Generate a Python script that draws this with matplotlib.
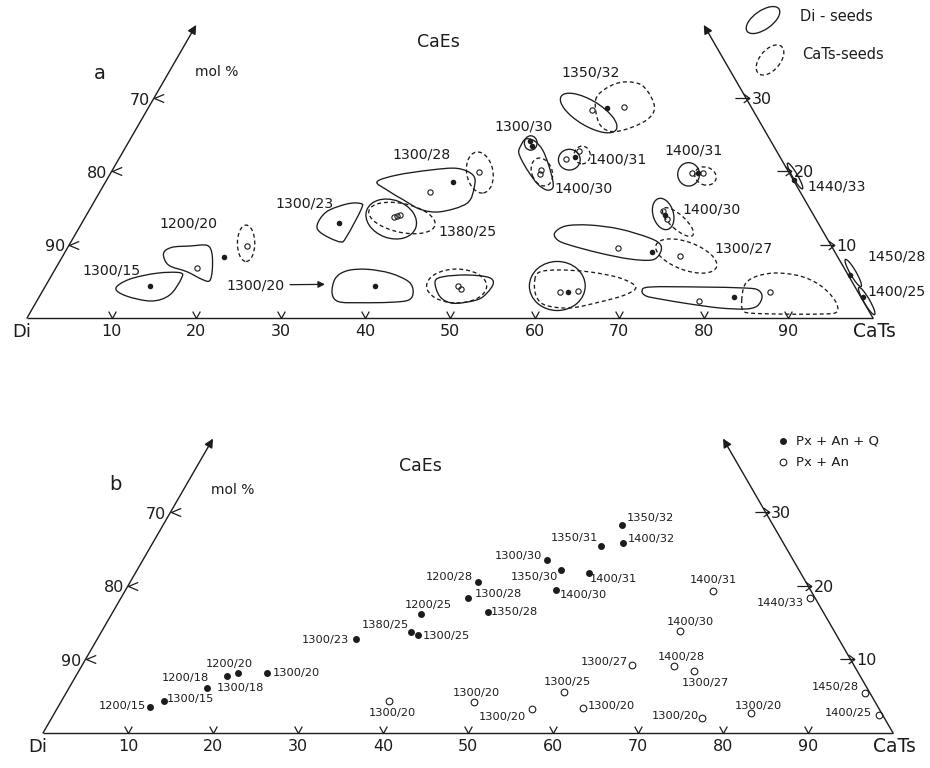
import numpy as np
import matplotlib.pyplot as plt
from matplotlib.path import Path
from matplotlib.patches import PathPatch, Ellipse

plt.rcParams['font.family'] = ['DejaVu Sans']

INK = "#1c1c1c"
DASH = (0, (3.0, 2.2))
SQ3 = np.sqrt(3) / 2

# ---------------- panel a : Di- and CaTs-seeded runs (CaTs, CaEs mol %) ----------------
a_full_cats = [12.3, 19.1, 30.4, 41.1, 38.9, 54.2, 47.4, 47.9, 53.8, 69.4, 68.4, 69.4,
               62.2, 82.2, 81.2, 94.3, 97.4]
a_full_caes = [4.41, 8.29, 13.0, 18.52, 4.41, 28.62, 24.2, 23.52, 21.94, 19.75, 14.06, 8.97,
               3.59, 2.83, 18.84, 5.87, 2.91]

a_open_cats = [16.7, 21.1, 36.5, 36.8, 37.1, 39.0, 43.4, 48.8, 49.4, 52.6, 56.1, 50.7, 50.8,
               52.9, 53.8, 68.7, 70.0, 67.9, 68.9, 65.1, 73.0, 61.2, 63.3, 78.3, 86.0]
a_open_caes = [6.78, 9.83, 13.75, 13.92, 14.06, 17.16, 19.97, 4.37, 3.92, 28.39, 28.84, 20.2, 19.66,
               21.66, 22.86, 19.75, 19.83, 14.65, 13.51, 9.51, 8.46, 3.51, 3.69, 2.36, 3.59]

a_labels = ["1300/15", "1200/20", "1300/23", "1300/28", "1380/25", "1350/32", "1300/30",
            "1400/31", "1400/30", "1400/31", "1400/30", "1300/27", "1440/33", "1450/28", "1400/25"]

# composition envelopes: ellipses (CaTs, CaEs, width, height, angle)
a_di_ellipses = [
    (36.3, 13.51, 6.15, 4.5, -20),
    (52.4, 27.98, 7.6, 3.0, -31),
    (47.6, 23.89, 1.5, 1.7, 0),
    (53.3, 21.61, 2.57, 2.45, 0),
    (68.4, 19.61, 2.57, 2.76, 0),
    (68.1, 14.2, 3.8, 2.4, 107),
    (60.5, 4.37, 6.6, 5.8, 0),
    (81.1, 19.38, 3.5, 0.6, -60),
    (94.6, 6.14, 3.7, 0.7, -60),
    (98.1, 2.32, 3.7, 0.7, -60),
]
a_cats_ellipses = [
    (20.8, 10.2, 2.05, 4.3, 0),
    (37.5, 13.65, 8.0, 3.4, -12),
    (43.6, 19.86, 3.1, 4.9, 10),
    (48.6, 4.37, 7.1, 4.0, 0),
    (50.9, 19.93, 3.4, 2.4, -70),
    (54.5, 22.25, 1.9, 2.1, 0),
    (70.5, 19.38, 2.6, 2.1, -20),
    (70.4, 13.1, 4.7, 1.7, -42),
    (73.7, 8.46, 7.6, 3.3, -20),
]

# irregular envelopes: centre (CaTs, CaEs) and outline offsets in mol %
a_di_blobs = [
    ((12.3, 4.41), [(-4.0, -0.31), (-2.4, 0.76), (0.8, 1.47), (3.55, 1.54), (3.75, 0.87),
                    (2.36, -1.1), (0.2, -1.81), (-2.75, -1.22)]),
    ((16.7, 6.78), [(-3.95, 1.77), (-2.96, 2.48), (-0.79, 2.64), (1.18, 2.72), (1.77, 1.77),
                    (1.81, -0.2), (1.49, -1.47), (0.59, -1.3), (-1.18, -0.4), (-3.36, 0.39)]),
    ((30.4, 13.0), [(2.45, 2.29), (2.65, 1.70), (0.87, -1.65), (0.08, -2.25), (-2.08, -1.25),
                    (-2.6, -0.27), (-1.49, 1.30), (0.87, 2.21)]),
    ((41.1, 18.52), [(-8.98, 0.07), (-6.62, 0.86), (-2.68, 1.45), (0.47, 1.65), (2.36, 0.86),
                     (2.52, -0.52), (1.65, -2.48), (-1.5, -3.48), (-3.87, -3.19), (-5.84, -2.09),
                     (-7.8, -0.91)]),
    ((38.9, 4.41), [(-5.04, -0.9), (-4.65, 0.87), (-3.26, 1.77), (-0.9, 1.94), (1.86, 1.47),
                    (4.02, 0.47), (4.54, -0.71), (4.02, -1.69), (1.86, -1.96), (-1.69, -2.01),
                    (-4.26, -1.89)]),
    ((48.8, 4.37), [(-2.75, 0.51), (-1.77, 1.1), (0.99, 1.3), (3.55, 1.03), (4.14, 0.32),
                    (3.36, -0.86), (2.17, -1.65), (-0.59, -2.04), (-2.16, -1.26)]),
    ((47.4, 24.2), [(-1.15, -0.63), (-0.56, 0.2), (0.51, -0.04), (1.45, -1.1), (2.16, -2.87),
                    (2.64, -4.65), (2.64, -5.59), (1.93, -5.83), (0.86, -5.12), (-0.2, -3.7),
                    (-1.03, -2.28), (-1.38, -1.34)]),
    ((65.1, 9.51), [(-7.48, 1.81), (-6.18, 2.64), (-3.35, 2.75), (0.2, 2.28), (3.75, 1.22),
                    (5.05, 0.39), (4.93, -0.67), (3.98, -1.38), (1.38, -1.26), (-2.16, -0.56),
                    (-5.71, 0.39), (-7.13, 0.98)]),
    ((78.3, 2.36), [(-6.77, 1.15), (-5.83, 1.62), (0.08, 1.62), (5.4, 1.5), (6.94, 1.26),
                    (7.41, 0.44), (6.82, -0.63), (5.4, -0.98), (2.45, -0.86), (-1.1, -0.39),
                    (-4.65, 0.2), (-6.3, 0.56)]),
]
a_cats_blobs = [
    ((56.1, 28.84), [(-3.31, 0.79), (-2.01, 2.21), (0, 2.92), (2.13, 2.56), (3.43, 0.79),
                     (3.55, -0.63), (2.36, -1.81), (0, -2.75), (-1.77, -2.87), (-2.96, -1.81)]),
    ((63.3, 3.69), [(-5.12, 1.3), (-4.53, 2.25), (-2.16, 2.48), (1.38, 2.25), (4.93, 1.54),
                    (6.82, 0.47), (5.52, -0.47), (2.56, -1.3), (-0.98, -2.01), (-3.94, -1.65),
                    (-5, -0.47)]),
    ((86.0, 3.59), [(-3.31, -0.98), (-2.96, 0.79), (-1.77, 1.74), (0.59, 2.21), (3.55, 1.86),
                    (5.91, 0.79), (7.68, -0.98), (7.92, -2.4), (5.91, -2.64), (1.18, -2.64),
                    (-2.36, -2.52), (-3.19, -2.16)]),
]

# ---------------- panel b : run products ----------------
b_full_labels = ["1200/15", "1300/15", "1200/18", "1300/18", "1200/20", "1300/20", "1300/23",
                 "1380/25", "1300/25", "1200/25", "1300/28", "1200/28", "1350/28", "1300/30",
                 "1350/30", "1400/30", "1350/31", "1400/31", "1350/32", "1400/32"]
b_full_cats = [10.8, 12.1, 17.8, 16.2, 18.9, 22.3, 30.4, 36.4, 37.5, 36.4, 40.9, 40.9, 44.1,
               47.5, 49.9, 50.6, 52.9, 53.4, 54.0, 55.3]
b_full_caes = [3.5, 4.35, 7.7, 6.1, 8.15, 8.15, 12.8, 13.7, 13.3, 16.2, 18.3, 20.5, 16.4,
               23.5, 22.1, 19.4, 25.4, 21.7, 28.3, 25.8]

b_open_labels = ["1300/20", "1300/20", "1300/20", "1300/25", "1300/20", "1300/27", "1400/31",
                 "1400/30", "1400/28", "1300/27", "1300/20", "1300/20", "1440/33", "1450/28",
                 "1400/25"]
b_open_cats = [38.5, 48.6, 55.9, 58.5, 61.8, 64.7, 69.2, 68.0, 69.7, 72.4, 76.5, 81.9, 81.1,
               94.0, 97.1]
b_open_caes = [4.35, 4.2, 3.25, 5.6, 3.4, 9.2, 19.3, 13.9, 9.1, 8.4, 2.0, 2.7, 18.3, 5.4, 2.45]

base_ticks = [10, 20, 30, 40, 50, 60, 70, 80, 90]
side_ticks = [10, 20, 30]

# label placement (plot units)
a_label_xy = [(10.0, 5.67), (19.05, 11.15), (32.86, 13.59), (46.65, 19.27), (52.1, 10.2),
              (66.6, 29.05), (58.75, 22.61), (69.8, 18.76), (65.8, 15.33), (78.76, 19.78),
              (80.95, 12.77), (84.75, 8.24), (95.71, 15.52), (102.8, 7.25), (102.8, 3.11)]
b_full_label_xy = [(9.29, 3.18), (17.4, 3.96), (16.8, 6.43), (23.18, 5.33), (21.9, 8.08),
                   (29.8, 7.02), (33.18, 10.94), (40.3, 12.71), (47.5, 11.41), (45.3, 15.06),
                   (53.6, 16.35), (47.8, 18.31), (55.5, 14.27), (55.9, 20.82), (57.8, 18.39),
                   (63.6, 16.24), (62.5, 22.9), (67.1, 18.12), (71.41, 25.33), (71.61, 22.79)]
b_open_label_xy = [(41.14, 2.39), (50.94, 4.67), (54.1, 1.85), (61.68, 6.04), (66.9, 3.18),
                   (66.1, 8.39), (78.86, 18.0), (76.12, 13.02), (75.14, 8.9), (77.88, 5.84),
                   (74.35, 2.04), (84.15, 3.18), (86.71, 15.33), (93.18, 5.45), (94.75, 2.39)]


def tern(cats, caes):
    cats = np.asarray(cats, float)
    caes = np.asarray(caes, float)
    return cats + caes / 2, caes * SQ3


def closed_curve(points):
    pts = np.asarray(points, float)
    n = len(pts)
    verts, codes = [pts[0]], [Path.MOVETO]
    for i in range(n):
        p0, p1, p2, p3 = pts[i - 1], pts[i], pts[(i + 1) % n], pts[(i + 2) % n]
        verts += [p1 + (p2 - p0) / 6, p2 - (p3 - p1) / 6, p2]
        codes += [Path.CURVE4] * 3
    return Path(verts, codes)


def draw_blob(ax, centre, offsets, dashed):
    cx, cy = tern(*centre)
    pts = np.asarray(offsets, float) + np.array([cx, cy])
    ax.add_patch(PathPatch(closed_curve(pts), fill=False, ec=INK, lw=0.95,
                           ls=DASH if dashed else '-'))


def draw_ellipse(ax, spec, dashed):
    cats, caes, w, h, ang = spec
    ax.add_patch(Ellipse(tern(cats, caes), w, h, angle=ang, fill=False, ec=INK, lw=0.95,
                         ls=DASH if dashed else '-'))


LEFT_TICK = Path([(1, 0.42), (0, 0), (1, -0.42)], [Path.MOVETO, Path.LINETO, Path.LINETO])
BASE_TICK = Path([(-0.55, 1), (0, 0), (0.55, 1)], [Path.MOVETO, Path.LINETO, Path.LINETO])
RIGHT_TICK = Path([(-1, 0), (0.3, 0), (-0.25, 0.4), (0.3, 0), (-0.25, -0.4)],
                  [Path.MOVETO, Path.LINETO, Path.MOVETO, Path.LINETO, Path.LINETO])


def draw_frame(ax, letter, letter_xy, mol_xy, caes_xy, num_size):
    ax.plot([0, 100], [0, 0], color=INK, lw=1.0, solid_capstyle='butt')
    for start, end in [((0, 0), (0, 40)), ((100, 0), (60, 40))]:
        ax.annotate("", xy=tern(*end), xytext=tern(*start),
                    arrowprops=dict(arrowstyle="-|>", color=INK, lw=1.0, mutation_scale=13,
                                    shrinkA=0, shrinkB=0))
    tick_kw = dict(ls='none', mfc='none', mec=INK, mew=0.9)

    bx, by = tern(base_ticks, np.zeros(len(base_ticks)))
    ax.plot(bx, by, marker=BASE_TICK, ms=10, **tick_kw)
    for v, x, y in zip(base_ticks, bx, by):
        ax.annotate(str(v), (x, y), xytext=(0, -10), textcoords='offset points',
                    ha='center', va='center', fontsize=num_size, color=INK)

    lx, ly = tern(np.zeros(len(side_ticks)), side_ticks)
    ax.plot(lx, ly, marker=LEFT_TICK, ms=14, **tick_kw)
    for v, x, y in zip(side_ticks, lx, ly):
        ax.annotate(str(100 - v), (x, y), xytext=(-3, -1.5), textcoords='offset points',
                    ha='right', va='center', fontsize=num_size, color=INK)

    rx, ry = tern(100 - np.array(side_ticks), side_ticks)
    ax.plot(rx, ry, marker=RIGHT_TICK, ms=16, **tick_kw)
    for v, x, y in zip(side_ticks, rx, ry):
        ax.annotate(str(v), (x, y), xytext=(4, -1), textcoords='offset points',
                    ha='left', va='center', fontsize=num_size, color=INK)

    ax.annotate("Di", (0, 0), xytext=(-4, -10), textcoords='offset points',
                ha='center', va='center', fontsize=13, color=INK)
    ax.annotate("CaTs", tern(100, 0), xytext=(1, -10), textcoords='offset points',
                ha='center', va='center', fontsize=13.5, color=INK)
    ax.text(*caes_xy, "CaEs", ha='center', va='center', fontsize=12.5, color=INK)
    ax.text(*letter_xy, letter, ha='center', va='center', fontsize=14, color=INK)
    ax.text(*mol_xy, "mol %", ha='center', va='center', fontsize=10, color=INK)


fig = plt.figure(figsize=(9.3, 7.68), dpi=100)
ax_a = fig.add_axes([0, 0.5, 1, 0.5])
ax_b = fig.add_axes([0, 0, 1, 0.5])
ax_a.set_xlim(-3.19, 106.74)
ax_a.set_ylim(-7.80, 37.59)
ax_b.set_xlim(-5.06, 104.35)
ax_b.set_ylim(-4.12, 41.06)
for ax in (ax_a, ax_b):
    ax.axis('off')

# ---- panel a ----
draw_frame(ax_a, "a", (8.63, 28.96), (22.46, 29.08), (48.6, 32.6), 11.5)
for spec in a_di_ellipses:
    draw_ellipse(ax_a, spec, False)
for spec in a_cats_ellipses:
    draw_ellipse(ax_a, spec, True)
for centre, offs in a_di_blobs:
    draw_blob(ax_a, centre, offs, False)
for centre, offs in a_cats_blobs:
    draw_blob(ax_a, centre, offs, True)

x, y = tern(a_full_cats, a_full_caes)
ax_a.plot(x, y, 'o', ms=4.0, color=INK, mew=0)
x, y = tern(a_open_cats, a_open_caes)
ax_a.plot(x, y, 'o', ms=3.8, mfc='none', mec=INK, mew=0.8)
for s, (lx, ly) in zip(a_labels, a_label_xy):
    ax_a.text(lx, ly, s, ha='center', va='center', fontsize=10.2, color=INK)
ax_a.annotate("1300/20", xy=(35.22, 3.98), xytext=(27.0, 3.90), ha='center', va='center',
              fontsize=10.2, color=INK,
              arrowprops=dict(arrowstyle="-|>", color=INK, lw=0.9, mutation_scale=10,
                              shrinkA=2, shrinkB=0))

# legend of envelope styles
ax_a.add_patch(Ellipse((87.0, 35.22), 4.6, 2.2, angle=35, fill=False, ec=INK, lw=0.95))
ax_a.add_patch(Ellipse((87.83, 30.5), 4.2, 2.4, angle=50, fill=False, ec=INK, lw=0.95, ls=DASH))
ax_a.text(91.4, 35.6, "Di - seeds", ha='left', va='center', fontsize=10.5, color=INK)
ax_a.text(91.6, 31.1, "CaTs-seeds", ha='left', va='center', fontsize=10.5, color=INK)

# ---- panel b ----
draw_frame(ax_b, "b", (8.47, 29.18), (22.35, 28.59), (44.4, 31.4), 11.5)
x, y = tern(b_full_cats, b_full_caes)
ax_b.plot(x, y, 'o', ms=5.0, color=INK, mew=0)
x, y = tern(b_open_cats, b_open_caes)
ax_b.plot(x, y, 'o', ms=4.8, mfc='none', mec=INK, mew=0.8)
for s, (lx, ly) in zip(b_full_labels, b_full_label_xy):
    ax_b.text(lx, ly, s, ha='center', va='center', fontsize=8.2, color=INK)
for s, (lx, ly) in zip(b_open_labels, b_open_label_xy):
    ax_b.text(lx, ly, s, ha='center', va='center', fontsize=8.2, color=INK)

ax_b.plot([87.06], [34.35], 'o', ms=5.0, color=INK, mew=0)
ax_b.plot([87.06], [31.88], 'o', ms=4.8, mfc='none', mec=INK, mew=0.8)
ax_b.text(88.6, 34.35, "Px + An + Q", ha='left', va='center', fontsize=9.5, color=INK)
ax_b.text(88.6, 31.88, "Px + An", ha='left', va='center', fontsize=9.5, color=INK)

fig.savefig("out.png", dpi=100, facecolor='white')
